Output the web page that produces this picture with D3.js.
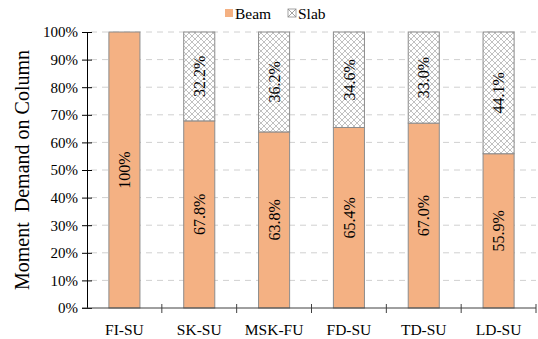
<!DOCTYPE html>
<html>
<head>
<meta charset="utf-8">
<script src="https://cdnjs.cloudflare.com/ajax/libs/d3/7.8.5/d3.min.js"></script>
<style>
  html, body { margin: 0; padding: 0; background: #fff; }
  svg { display: block; }
  svg text { font-family: "Liberation Serif", "Times New Roman", serif; }
</style>
</head>
<body>
<svg id="chart" width="538" height="339"></svg>
<script>
// Share of column moment demand carried by beam vs slab
const categories = ["FI-SU", "SK-SU", "MSK-FU", "FD-SU", "TD-SU", "LD-SU"];
const beamValues = [100, 67.8, 63.8, 65.4, 67.0, 55.9];
const slabValues = [0, 32.2, 36.2, 34.6, 33.0, 44.1];
const beamLabels = ["100%", "67.8%", "63.8%", "65.4%", "67.0%", "55.9%"];
const slabLabels = ["", "32.2%", "36.2%", "34.6%", "33.0%", "44.1%"];
const yTicks = [0, 10, 20, 30, 40, 50, 60, 70, 80, 90, 100];
const seriesNames = ["Beam", "Slab"];

const FONT = "Liberation Serif";
const svg = d3.select("#chart");
const margin = { left: 87, right: 2, top: 32, bottom: 31 };
const W = 538, H = 339;

const x = d3.scaleBand().domain(categories).range([margin.left, W - margin.right]).paddingInner(0.585).paddingOuter(0.2925);
const xOuter = d3.scaleBand().domain(categories).range([margin.left, W - margin.right]);
const y = d3.scaleLinear().domain([0, 100]).range([H - margin.bottom, margin.top]);

// Cross-hatch pattern for the slab portion
const defs = svg.append("defs");
const pat = defs.append("pattern").attr("id", "hatch").attr("patternUnits", "userSpaceOnUse")
  .attr("width", 6).attr("height", 6);
pat.append("rect").attr("width", 6).attr("height", 6).attr("fill", "#fff");
pat.append("path").attr("d", "M0,0 L6,6 M6,0 L0,6 M-1,5 L1,7 M5,-1 L7,1 M-1,1 L1,-1 M5,7 L7,5")
  .attr("stroke", "#a6a6a6").attr("stroke-width", 0.7).attr("fill", "none");

// Gridlines
svg.append("g").selectAll("line").data(yTicks.filter(d => d > 0)).join("line")
  .attr("x1", margin.left + 4).attr("x2", W - margin.right)
  .attr("y1", d => y(d)).attr("y2", d => y(d))
  .attr("stroke", "#d0d0d0").attr("stroke-width", 1).attr("stroke-dasharray", "6,5");

// Stacked bars
const rows = categories.map((c, i) => ({ cat: c, beam: beamValues[i], slab: slabValues[i], bl: beamLabels[i], sl: slabLabels[i] }));
const g = svg.append("g");
g.selectAll("rect.beam").data(rows).join("rect").attr("class", "beam")
  .attr("x", d => x(d.cat)).attr("width", x.bandwidth())
  .attr("y", d => y(d.beam)).attr("height", d => y(0) - y(d.beam))
  .attr("fill", "#f4b183").attr("stroke", "#8c8c8c").attr("stroke-width", 1);
g.selectAll("rect.slab").data(rows.filter(d => d.slab > 0)).join("rect").attr("class", "slab")
  .attr("x", d => x(d.cat)).attr("width", x.bandwidth())
  .attr("y", d => y(d.beam + d.slab)).attr("height", d => y(d.beam) - y(d.beam + d.slab))
  .attr("fill", "url(#hatch)").attr("stroke", "#8c8c8c").attr("stroke-width", 1);

// Value labels, reading bottom to top
const labelFont = 16;
g.selectAll("text.bl").data(rows).join("text").attr("class", "bl")
  .attr("transform", d => `translate(${x(d.cat) + x.bandwidth() / 2},${y(d.beam / 2)}) rotate(-90)`)
  .attr("text-anchor", "middle").attr("dy", "0.35em").attr("font-family", FONT)
  .attr("font-size", labelFont).attr("fill", "#000").text(d => d.bl);
g.selectAll("text.sl").data(rows.filter(d => d.slab > 0)).join("text").attr("class", "sl")
  .attr("transform", d => `translate(${x(d.cat) + x.bandwidth() / 2},${y(d.beam + d.slab / 2)}) rotate(-90)`)
  .attr("text-anchor", "middle").attr("dy", "0.35em").attr("font-family", FONT)
  .attr("font-size", labelFont).attr("fill", "#000").text(d => d.sl);

// Y axis
const yAxis = svg.append("g").attr("transform", `translate(${margin.left},0)`)
  .call(d3.axisLeft(y).tickValues(yTicks).tickFormat(d => d + "%").tickSizeInner(5).tickSizeOuter(0))
  .attr("font-family", FONT);
yAxis.select(".domain").attr("stroke", "#000");
yAxis.selectAll(".tick line").attr("x1", -5).attr("x2", 5).attr("stroke", "#000");
yAxis.selectAll(".tick text").attr("x", -9).attr("font-size", 15).attr("font-family", FONT).attr("fill", "#000");

// X axis with ticks at category boundaries
const xg = svg.append("g").attr("transform", `translate(0,${y(0)})`);
xg.append("line").attr("x1", margin.left - 5).attr("x2", W - margin.right)
  .attr("stroke", "#404040").attr("stroke-width", 1);
const bounds = categories.map(c => xOuter(c) + xOuter.bandwidth());
xg.selectAll("line.t").data(bounds).join("line").attr("class", "t")
  .attr("x1", d => d).attr("x2", d => d).attr("y1", -4).attr("y2", 5)
  .attr("stroke", "#404040");
xg.selectAll("text").data(categories).join("text")
  .attr("x", d => xOuter(d) + xOuter.bandwidth() / 2).attr("y", 27)
  .attr("text-anchor", "middle").attr("font-size", 15.5).attr("font-family", FONT)
  .attr("fill", "#000").text(d => d);

// Y axis title
svg.append("text").attr("transform", `translate(22,${(y(0) + y(100)) / 2}) rotate(-90)`)
  .attr("text-anchor", "middle").attr("dy", "0.35em").attr("font-size", 20).attr("font-family", FONT)
  .attr("fill", "#000").attr("xml:space", "preserve").text("Moment  Demand on Column");

// Legend
const legend = svg.append("g");
const pat2 = defs.append("pattern").attr("id", "hatchSmall").attr("patternUnits", "userSpaceOnUse")
  .attr("width", 8).attr("height", 8).attr("x", 288).attr("y", 9);
pat2.append("rect").attr("width", 8).attr("height", 8).attr("fill", "#fff");
pat2.append("path").attr("d", "M0,0 L8,8 M8,0 L0,8").attr("stroke", "#8c8c8c").attr("stroke-width", 0.8);
const legendItems = [
  { name: seriesNames[0], fill: "#f4b183", x: 225, stroke: "none" },
  { name: seriesNames[1], fill: "url(#hatchSmall)", x: 288, stroke: "#8c8c8c" }
];
legendItems.forEach(it => {
  legend.append("rect").attr("x", it.x).attr("y", 9).attr("width", 8).attr("height", 8)
    .attr("fill", it.fill).attr("stroke", it.stroke).attr("stroke-width", 0.8);
  legend.append("text").attr("x", it.x + 10).attr("y", 18.5).attr("font-size", 15.5)
    .attr("font-family", FONT).attr("fill", "#000").text(it.name);
});
</script>
</body>
</html>
